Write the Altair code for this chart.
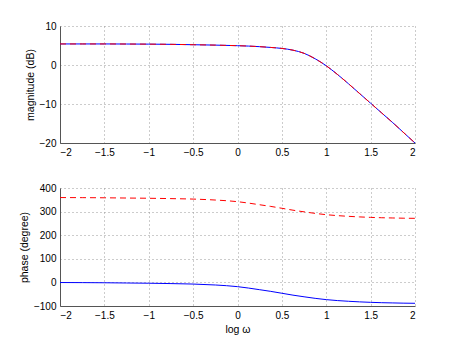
import altair as alt
import pandas as pd

log_w = [-2, -1.75, -1.5, -1.25, -1, -0.75, -0.5, -0.25, 0, 0.125, 0.25, 0.375, 0.5,
         0.625, 0.75, 0.875, 1.0, 1.125, 1.25, 1.375, 1.5, 1.625, 1.75, 1.875, 2]
mag_blue = [5.4, 5.4, 5.4, 5.38, 5.35, 5.3, 5.2, 5.1, 4.95, 4.85, 4.7, 4.5, 4.25,
            3.8, 3.0, 1.6, -0.2, -2.4, -4.8, -7.3, -9.8, -12.3, -14.8, -17.4, -20]
mag_red = [5.4, 5.4, 5.4, 5.38, 5.35, 5.3, 5.2, 5.1, 4.95, 4.85, 4.7, 4.5, 4.25,
           3.8, 3.0, 1.6, -0.2, -2.4, -4.8, -7.3, -9.8, -12.3, -14.8, -17.4, -20]
phase_blue = [-0.5, -0.9, -1.5, -2.5, -3.5, -5, -7, -11, -18, -24, -31, -38, -46,
              -54, -61, -67.5, -73, -77, -80, -82.5, -84.5, -86, -87, -88, -88.5]
phase_red = [359.5, 359.1, 358.5, 357.5, 356.5, 355, 353, 349, 342, 336, 329, 322, 314,
             306, 299, 292.5, 287, 283, 280, 277.5, 275.5, 274, 273, 272, 271.5]

x_ticks = [-2, -1.5, -1, -0.5, 0, 0.5, 1, 1.5, 2]
mag_ticks = [-20, -10, 0, 10]
phase_ticks = [-100, 0, 100, 200, 300, 400]

df_mag = pd.DataFrame({"x": log_w, "blue": mag_blue, "red": mag_red})
df_ph = pd.DataFrame({"x": log_w, "blue": phase_blue, "red": phase_red})

W = 355

def xenc(title):
    return alt.X("x:Q", scale=alt.Scale(domain=[-2, 2], nice=False),
                 axis=alt.Axis(values=x_ticks, title=title, format="~g"))

def panel(df, domain, ticks, ytitle, xtitle, h):
    yaxis = alt.Axis(values=ticks, title=ytitle, format="d")
    ysc = alt.Scale(domain=domain, nice=False)
    base = alt.Chart(df)
    blue = base.mark_line(color="#0000ff", strokeWidth=1, interpolate="monotone").encode(
        x=xenc(xtitle), y=alt.Y("blue:Q", scale=ysc, axis=yaxis))
    red = base.mark_line(color="#ff0000", strokeWidth=1, strokeDash=[6, 4],
                         interpolate="monotone").encode(
        x=xenc(xtitle), y=alt.Y("red:Q", scale=ysc, axis=yaxis))
    return alt.layer(blue, red).properties(width=W, height=h)

top = panel(df_mag, [-20, 10], mag_ticks, "magnitude (dB)", None, 117)
bottom = panel(df_ph, [-100, 400], phase_ticks, "phase (degree)", "log ω", 118)

chart = alt.vconcat(top, bottom, spacing=45, bounds="flush").properties(
    padding={"left": 11, "top": 13, "right": 5, "bottom": 5},
    background="white",
).configure_view(stroke=None).configure_axis(
    labelFont="Liberation Sans", labelFontSize=10, labelColor="#000000",
    titleFont="Liberation Sans", titleFontSize=10.5, titleFontWeight="normal",
    titleColor="#000000", labelPadding=4, titlePadding=4,
    domainColor="#555555", domainWidth=1, ticks=False,
    grid=True, gridColor="#999999", gridDash=[1, 3], gridWidth=1,
)

chart.save("out.html", embed_options={"renderer": "svg", "actions": False})
